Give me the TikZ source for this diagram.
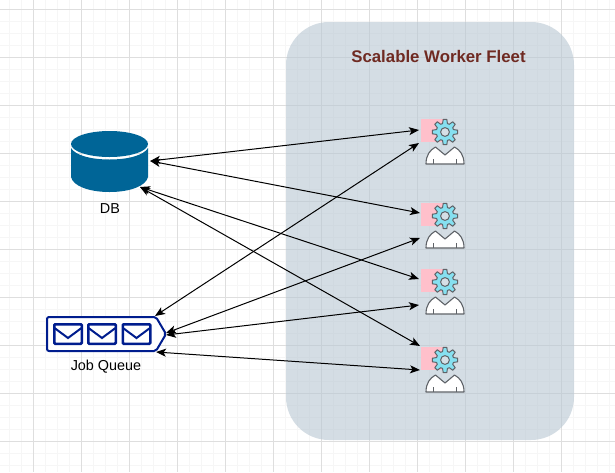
\documentclass[tikz,border=0pt]{standalone}
\usepackage{fontspec}
\setmainfont{Liberation Sans}
\usetikzlibrary{arrows.meta}

\definecolor{fleetfill}{HTML}{BAC8D3}
\definecolor{fleettext}{HTML}{6F2A22}
\definecolor{dbblue}{HTML}{006597}
\definecolor{queueblue}{HTML}{001D8E}
\definecolor{gearfill}{HTML}{86E0F0}
\definecolor{gearhole}{HTML}{D5DFE6}
\definecolor{iconline}{HTML}{5F6368}
\definecolor{workerpink}{HTML}{FFC0CB}

\tikzset{
  link/.style={<->,>={Stealth[length=10pt,width=8pt,inset=2.5pt]},black,line width=1pt},
  workerbox/.style={fill=workerpink,draw=none,minimum width=22pt,minimum height=23pt,inner sep=0pt,outer sep=0pt},
  caption/.style={font=\fontsize{14.4}{16}\selectfont,text=black,inner sep=0pt},
  mailbox/.style={draw=queueblue,line width=2.5pt,fill=white,rounded corners=1pt,minimum width=27.5pt,minimum height=19.5pt,inner sep=0pt},
  workericon/.pic={
    \draw[fill=gearfill,draw=iconline,line width=1pt,line join=round]
      (-16:8.8) \foreach \a in {0,45,...,315} {
        -- (\a-16:8.8) -- (\a-8:12.8) -- (\a+8:12.8) -- (\a+16:8.8)
      } -- cycle;
    \draw[fill=gearhole,draw=iconline,line width=1pt] (0,0) circle (4.4);
    \draw[fill=white,draw=iconline,line width=1.1pt,line join=round]
      (-19,32) .. controls (-19,23) and (-15,18) .. (-9.5,15)
      -- (0,23) -- (9.5,15)
      .. controls (15,18) and (19,23) .. (19,32) -- cycle;
    \draw[iconline,line width=1pt] (-11.5,27) -- (-11.5,32) (11.5,27) -- (11.5,32);
  }
}

\begin{document}
\begin{tikzpicture}[x=1pt,y=-1pt]
  \useasboundingbox (0,0) rectangle (615,472);

  % grid
  \foreach \i in {0,...,50} {
    \draw[black!3.5,line width=.8pt] ({9+12*\i},0) -- ({9+12*\i},472);
  }
  \foreach \i in {0,...,38} {
    \draw[black!3.5,line width=.8pt] (0,{9+12*\i}) -- (615,{9+12*\i});
  }
  \foreach \i in {0,...,12} {
    \draw[black!13,line width=.8pt] ({33+48*\i-48},0) -- ({33+48*\i-48},472);
  }
  \foreach \i in {0,...,9} {
    \draw[black!13,line width=.8pt] (0,{9+48*\i}) -- (615,{9+48*\i});
  }

  % fleet
  \node[fill=fleetfill,fill opacity=.62,rounded corners=43pt,draw=none,minimum width=288pt,minimum height=418pt,inner sep=0pt] (fleet) at (430,231) {};
  \node[font=\bfseries\fontsize{16.8}{18}\selectfont,text=fleettext,inner sep=0pt] (title) at (438.5,56) {Scalable Worker Fleet};

  % workers
  \node[workerbox] (W1) at (432,130.5) {};
  \node[workerbox] (W2) at (432,214.5) {};
  \node[workerbox] (W3) at (432,280.5) {};
  \node[workerbox] (W4) at (432,358.5) {};
  \foreach \y in {132,216,282,360} {
    \pic at (445,\y) {workericon};
  }
  \coordinate (W1d) at (419,130);
  \coordinate (W1q) at (419,143);
  \coordinate (W2d) at (420,213);
  \coordinate (W2q) at (420,238);
  \coordinate (W3d) at (419,279);
  \coordinate (W3q) at (419,305);
  \coordinate (W4d) at (420,346);
  \coordinate (W4q) at (420,370);

  % db
  \node[minimum width=80pt,minimum height=62pt,inner sep=0pt] (db) at (110,161) {};
  \fill[dbblue] (71,148) .. controls (75,155) and (90,159.5) .. (109.5,159.5)
     .. controls (129,159.5) and (144,155) .. (148,148) -- (148,177)
     .. controls (146,186) and (130,192) .. (109.5,192)
     .. controls (89,192) and (73,186) .. (71,177) -- cycle;
  \fill[dbblue] (109.5,144) ellipse (38.5 and 13);
  \coordinate (dblow) at (140,187);
  \node[caption] (dblabel) at (110,209) {DB};

  % queue
  \node[minimum width=119pt,minimum height=34pt,inner sep=0pt] (queue) at (106.5,334) {};
  \draw[queueblue,line width=2pt,fill=white,rounded corners=2pt] (47,317) -- (156,317) -- (166,334) -- (156,351) -- (47,351) -- cycle;
  \foreach \x in {68,102,136.5} {
    \node[mailbox] (mail\x) at (\x,334) {};
    \draw[queueblue,line width=2pt] (\x-13.5,328) -- (\x,338) -- (\x+13.5,328);
  }
  \coordinate (qtop) at (155,316);
  \coordinate (qmida) at (166,333);
  \coordinate (qmidb) at (166,335);
  \coordinate (qlow) at (156,352);
  \node[caption] (queuelabel) at (106,367) {Job Queue};

  % links
  \draw[link] (db.east) -- (W1d);
  \draw[link] (db.east) -- (W2d);
  \draw[link] (dblow) -- (W3d);
  \draw[link] (dblow) -- (W4d);
  \draw[link] (qtop) -- (W1q);
  \draw[link] (qmida) -- (W2q);
  \draw[link] (qmidb) -- (W3q);
  \draw[link] (qlow) -- (W4q);
\end{tikzpicture}
\end{document}
